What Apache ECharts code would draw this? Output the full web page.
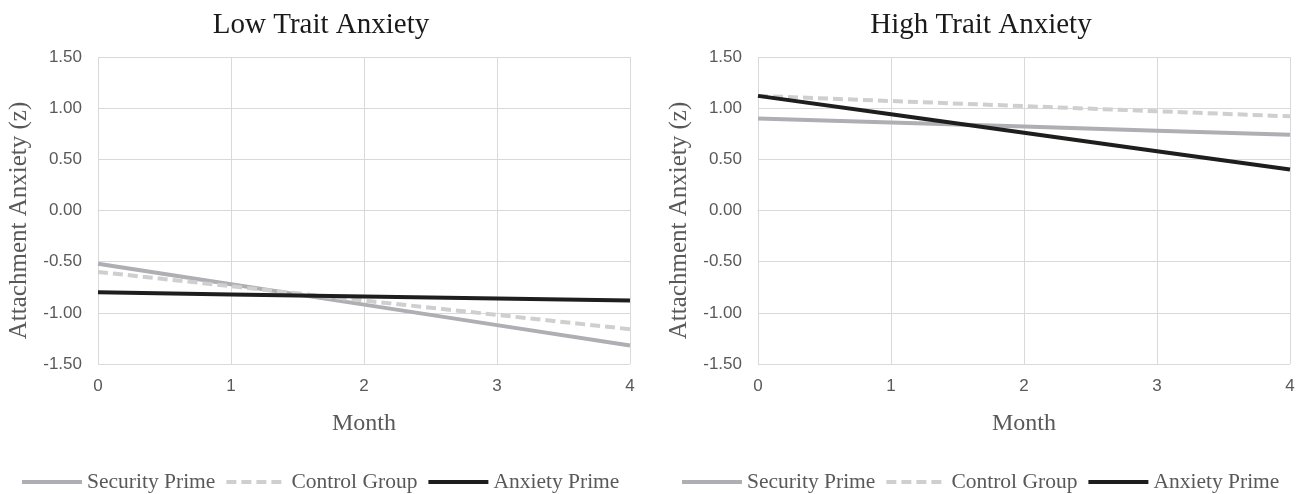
<!DOCTYPE html>
<html>
<head>
<meta charset="utf-8">
<script src="https://cdn.jsdelivr.net/npm/echarts@6/dist/echarts.min.js"></script>
<style>html,body{margin:0;padding:0;background:#fff}#c{width:1302px;height:494px}</style>
</head>
<body>
<div id="c"></div>
<script>
const months = ['0', '1', '2', '3', '4'];
const yTicks = [-1.5, -1.0, -0.5, 0, 0.5, 1.0, 1.5];
const seriesNames = ['Security Prime', 'Control Group', 'Anxiety Prime'];
const panelTitles = ['Low Trait Anxiety', 'High Trait Anxiety'];

const lowSecurity = [-0.52, -0.72, -0.92, -1.12, -1.32];
const lowControl = [-0.60, -0.74, -0.88, -1.02, -1.16];
const lowAnxiety = [-0.80, -0.82, -0.84, -0.86, -0.88];

const highSecurity = [0.90, 0.86, 0.82, 0.78, 0.74];
const highControl = [1.12, 1.07, 1.02, 0.97, 0.92];
const highAnxiety = [1.12, 0.94, 0.76, 0.58, 0.40];

const serif = 'Liberation Serif';
const sans = 'Liberation Sans';
const gridColor = '#d9d9d9';
const labelColor = '#595959';

const styles = [
  { color: '#aeaeb3', type: 'solid' },
  { color: '#cfcfcf', type: [10, 5] },
  { color: '#1e1e1e', type: 'solid' }
];

function xAxis(i) {
  return {
    type: 'category', data: months, gridIndex: i, boundaryGap: false,
    name: 'Month', nameLocation: 'middle', nameGap: 48,
    nameTextStyle: { fontFamily: serif, fontSize: 24, color: labelColor },
    axisLine: { lineStyle: { color: gridColor, width: 1 } },
    axisTick: { show: false },
    axisLabel: { fontFamily: sans, fontSize: 17, color: labelColor, margin: 14 },
    splitLine: { show: true, lineStyle: { color: gridColor, width: 1 } }
  };
}
function yAxis(i) {
  return {
    type: 'value', gridIndex: i, min: yTicks[0], max: yTicks[yTicks.length - 1], interval: 0.5,
    name: 'Attachment Anxiety (z)', nameLocation: 'middle', nameGap: 66,
    nameTextStyle: { fontFamily: serif, fontSize: 25, color: labelColor, padding: [0, 20, 0, 0] },
    axisLine: { show: false }, axisTick: { show: false },
    axisLabel: { fontFamily: sans, fontSize: 17, color: labelColor, margin: 16,
      formatter: v => v.toFixed(2) },
    splitLine: { show: true, lineStyle: { color: gridColor, width: 1 } }
  };
}
function mk(name, data, idx, k) {
  return {
    name: name, type: 'line', data: data, xAxisIndex: idx, yAxisIndex: idx,
    symbol: 'none', silent: true, animation: false,
    lineStyle: { color: styles[k].color, type: styles[k].type, width: 4, cap: 'butt' },
    itemStyle: { color: styles[k].color }
  };
}
const legendBase = {
  data: seriesNames, top: 471, padding: 0, itemWidth: 60, itemHeight: 14, itemGap: 9,
  lineStyle: { width: 4 }, itemStyle: { opacity: 0 },
  textStyle: { fontFamily: serif, fontSize: 21.5, color: labelColor }, selectedMode: false
};

const chart = echarts.init(document.getElementById('c'), null, { renderer: 'canvas' });
chart.setOption({
  backgroundColor: '#fff',
  animation: false,
  title: [
    { text: panelTitles[0], left: 316, textAlign: 'center', top: 6,
      textStyle: { fontFamily: serif, fontSize: 29, fontWeight: 'normal', color: '#1a1a1a' } },
    { text: panelTitles[1], left: 976, textAlign: 'center', top: 6,
      textStyle: { fontFamily: serif, fontSize: 29, fontWeight: 'normal', color: '#1a1a1a' } }
  ],
  legend: [
    Object.assign({ left: 20 }, legendBase),
    Object.assign({ left: 680 }, legendBase)
  ],
  grid: [
    { left: 98, width: 532, top: 57, height: 307 },
    { left: 758, width: 532, top: 57, height: 307 }
  ],
  xAxis: [xAxis(0), xAxis(1)],
  yAxis: [yAxis(0), yAxis(1)],
  series: [
    mk(seriesNames[0], lowSecurity, 0, 0),
    mk(seriesNames[1], lowControl, 0, 1),
    mk(seriesNames[2], lowAnxiety, 0, 2),
    mk(seriesNames[0], highSecurity, 1, 0),
    mk(seriesNames[1], highControl, 1, 1),
    mk(seriesNames[2], highAnxiety, 1, 2)
  ]
});
</script>
</body>
</html>
